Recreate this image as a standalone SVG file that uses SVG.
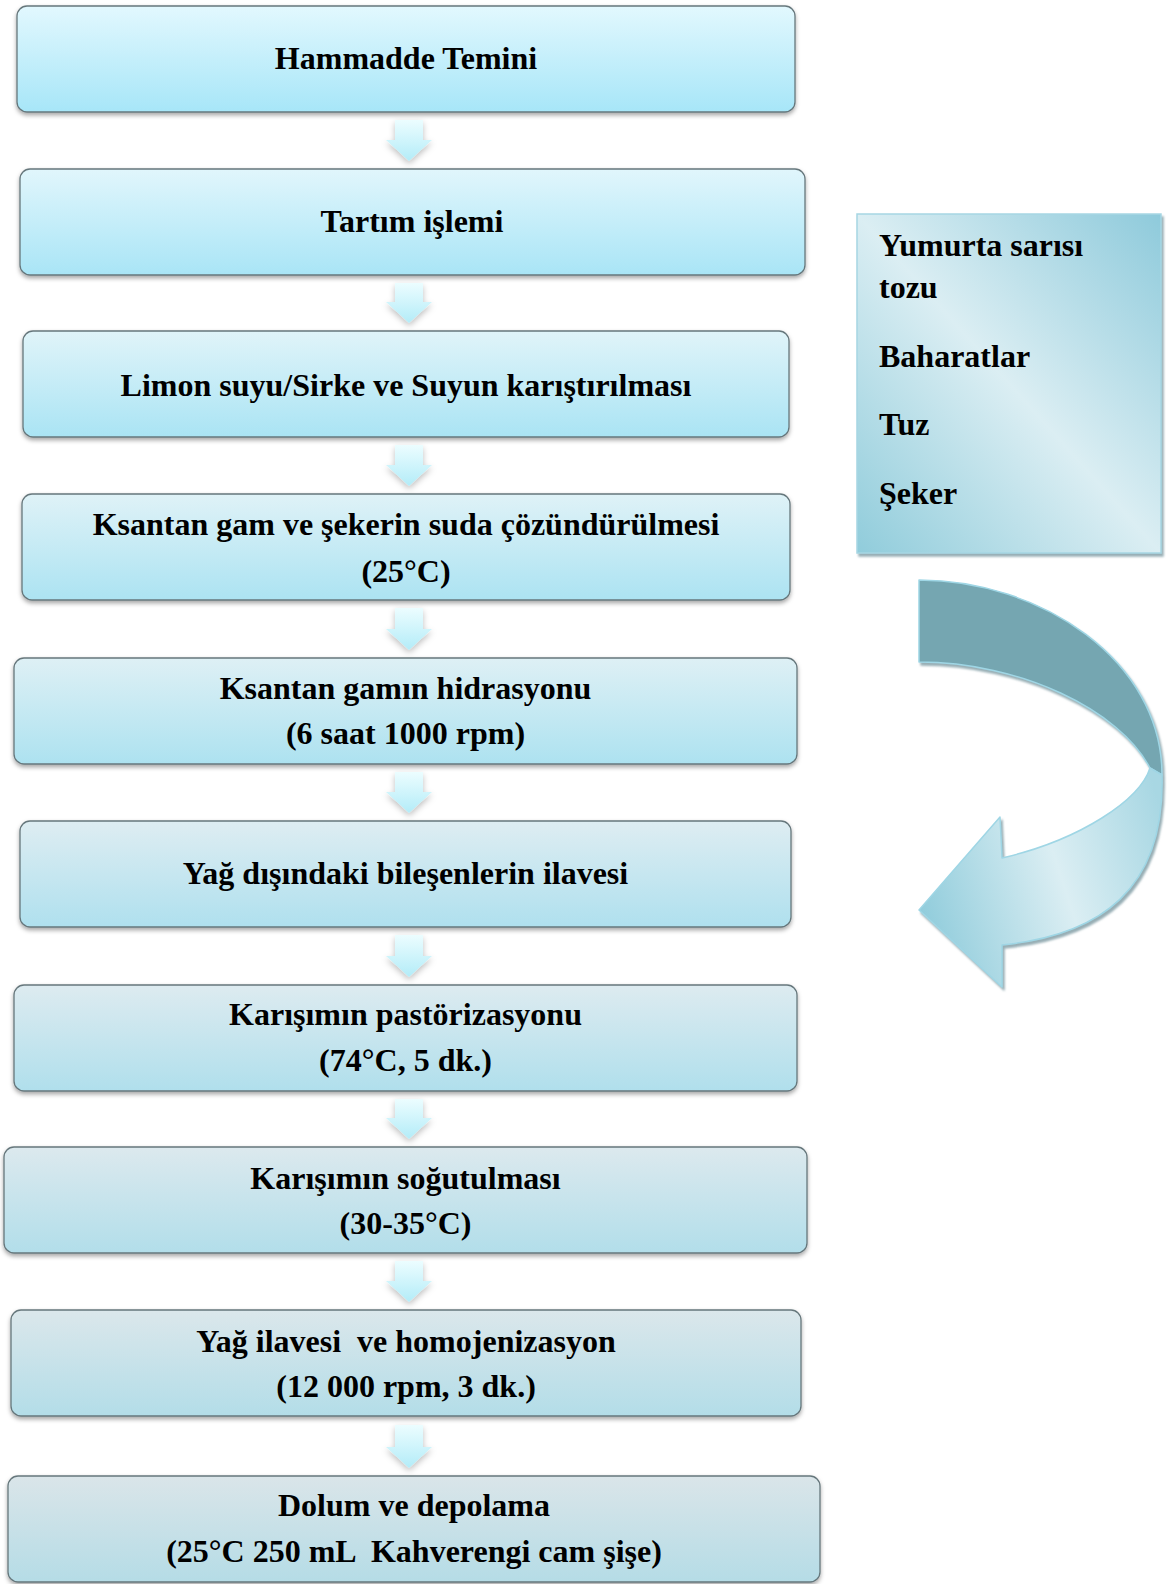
<svg xmlns="http://www.w3.org/2000/svg" width="1174" height="1584" viewBox="0 0 1174 1584">
<style>
.box{stroke:#66777c;stroke-width:1.3;filter:url(#sh)}
.t{font-family:"Liberation Serif","Times New Roman",serif;font-weight:bold;font-size:32px;fill:#000;text-anchor:middle}
.s{font-family:"Liberation Serif","Times New Roman",serif;font-weight:bold;font-size:32px;fill:#000}
.dn{fill:url(#ga);filter:url(#ash)}
</style>
<defs>
<filter id="sh" x="-5%" y="-20%" width="110%" height="150%"><feDropShadow dx="0" dy="2.5" stdDeviation="2" flood-color="#000" flood-opacity="0.35"/></filter>
<filter id="ash" x="-50%" y="-50%" width="200%" height="200%"><feDropShadow dx="0" dy="3" stdDeviation="3" flood-color="#000" flood-opacity="0.25"/></filter>
<filter id="csh" x="-10%" y="-10%" width="120%" height="120%"><feDropShadow dx="2" dy="3" stdDeviation="0.8" flood-color="#7d9aa2" flood-opacity="0.8"/></filter>
<linearGradient id="ga" x1="0" y1="0" x2="0" y2="1"><stop offset="0" stop-color="#ecfdff"/><stop offset="1" stop-color="#b3ecf8"/></linearGradient>
<linearGradient id="g0" x1="0" y1="0" x2="0" y2="1"><stop offset="0" stop-color="#e2f8fe"/><stop offset="1" stop-color="#a7e6f8"/></linearGradient>
<linearGradient id="g1" x1="0" y1="0" x2="0" y2="1"><stop offset="0" stop-color="#e1f6fc"/><stop offset="1" stop-color="#a9e5f6"/></linearGradient>
<linearGradient id="g2" x1="0" y1="0" x2="0" y2="1"><stop offset="0" stop-color="#e0f4f9"/><stop offset="1" stop-color="#aae4f4"/></linearGradient>
<linearGradient id="g3" x1="0" y1="0" x2="0" y2="1"><stop offset="0" stop-color="#dff2f7"/><stop offset="1" stop-color="#ace3f2"/></linearGradient>
<linearGradient id="g4" x1="0" y1="0" x2="0" y2="1"><stop offset="0" stop-color="#def0f5"/><stop offset="1" stop-color="#ade2f0"/></linearGradient>
<linearGradient id="g5" x1="0" y1="0" x2="0" y2="1"><stop offset="0" stop-color="#deedf2"/><stop offset="1" stop-color="#afe0ee"/></linearGradient>
<linearGradient id="g6" x1="0" y1="0" x2="0" y2="1"><stop offset="0" stop-color="#ddebf0"/><stop offset="1" stop-color="#b0dfec"/></linearGradient>
<linearGradient id="g7" x1="0" y1="0" x2="0" y2="1"><stop offset="0" stop-color="#dce9ee"/><stop offset="1" stop-color="#b2deea"/></linearGradient>
<linearGradient id="g8" x1="0" y1="0" x2="0" y2="1"><stop offset="0" stop-color="#dbe7eb"/><stop offset="1" stop-color="#b3dde8"/></linearGradient>
<linearGradient id="g9" x1="0" y1="0" x2="0" y2="1"><stop offset="0" stop-color="#dae5e9"/><stop offset="1" stop-color="#b5dce6"/></linearGradient>
<linearGradient id="gs" x1="0" y1="1" x2="1" y2="0"><stop offset="0" stop-color="#90ccdb"/><stop offset="0.5" stop-color="#dbeef3"/><stop offset="1" stop-color="#8ecadb"/></linearGradient>
<linearGradient id="gc" gradientUnits="userSpaceOnUse" x1="919" y1="900" x2="1165" y2="820"><stop offset="0" stop-color="#92cddc"/><stop offset="0.55" stop-color="#dbeef3"/><stop offset="1" stop-color="#a8d7e3"/></linearGradient>
</defs>

<g id="connectors">
<path class="dn" d="M395,120 H423 V140 H432 L409,161 L386,140 H395 Z"/>
<path class="dn" d="M395,283 H423 V302 H432 L409,323 L386,302 H395 Z"/>
<path class="dn" d="M395,445 H423 V465 H432 L409,486 L386,465 H395 Z"/>
<path class="dn" d="M395,608 H423 V629 H432 L409,650 L386,629 H395 Z"/>
<path class="dn" d="M395,772 H423 V792 H432 L409,813 L386,792 H395 Z"/>
<path class="dn" d="M395,935 H423 V956 H432 L409,977 L386,956 H395 Z"/>
<path class="dn" d="M395,1099 H423 V1118 H432 L409,1139 L386,1118 H395 Z"/>
<path class="dn" d="M395,1261 H423 V1281 H432 L409,1302 L386,1281 H395 Z"/>
<path class="dn" d="M395,1425 H423 V1447 H432 L409,1468 L386,1447 H395 Z"/>
</g>

<g id="n1"><rect class="box" x="17" y="6" width="778" height="106" rx="10" fill="url(#g0)"/><text class="t" x="406" y="69">Hammadde Temini</text></g>
<g id="n2"><rect class="box" x="20" y="169" width="785" height="106" rx="10" fill="url(#g1)"/><text class="t" x="412" y="232">Tartım işlemi</text></g>
<g id="n3"><rect class="box" x="23" y="331" width="766" height="106" rx="10" fill="url(#g2)"/><text class="t" x="406" y="396">Limon suyu/Sirke ve Suyun karıştırılması</text></g>
<g id="n4"><rect class="box" x="22" y="494" width="768" height="106" rx="10" fill="url(#g3)"/><text class="t" x="406" y="535">Ksantan gam ve şekerin suda çözündürülmesi</text><text class="t" x="406" y="582">(25°C)</text></g>
<g id="n5"><rect class="box" x="14" y="658" width="783" height="106" rx="10" fill="url(#g4)"/><text class="t" x="405.5" y="699">Ksantan gamın hidrasyonu</text><text class="t" x="405.5" y="744">(6 saat 1000 rpm)</text></g>
<g id="n6"><rect class="box" x="20" y="821" width="771" height="106" rx="10" fill="url(#g5)"/><text class="t" x="405.5" y="884">Yağ dışındaki bileşenlerin ilavesi</text></g>
<g id="n7"><rect class="box" x="14" y="985" width="783" height="106" rx="10" fill="url(#g6)"/><text class="t" x="405.5" y="1025">Karışımın pastörizasyonu</text><text class="t" x="405.5" y="1071">(74°C, 5 dk.)</text></g>
<g id="n8"><rect class="box" x="4" y="1147" width="803" height="106" rx="10" fill="url(#g7)"/><text class="t" x="405.5" y="1189">Karışımın soğutulması</text><text class="t" x="405.5" y="1234">(30-35°C)</text></g>
<g id="n9"><rect class="box" x="11" y="1310" width="790" height="106" rx="10" fill="url(#g8)"/><text class="t" x="406" y="1352" xml:space="preserve">Yağ ilavesi  ve homojenizasyon</text><text class="t" x="406" y="1397">(12 000 rpm, 3 dk.)</text></g>
<g id="n10"><rect class="box" x="8" y="1476" width="812" height="106" rx="10" fill="url(#g9)"/><text class="t" x="414" y="1516">Dolum ve depolama</text><text class="t" x="414" y="1562" xml:space="preserve">(25°C 250 mL  Kahverengi cam şişe)</text></g>

<g id="side">
<rect x="857" y="214" width="304" height="339" fill="url(#gs)" stroke="#a6d6e3" stroke-width="1.5" filter="url(#csh)"/>
<text class="s" x="879" y="256">Yumurta sarısı</text>
<text class="s" x="879" y="298">tozu</text>
<text class="s" x="879" y="367">Baharatlar</text>
<text class="s" x="879" y="435">Tuz</text>
<text class="s" x="879" y="504">Şeker</text>
</g>

<g id="curved-arrow" filter="url(#csh)">
<path d="M919,580 C1040,580 1162,660 1162,775 L1150,768 C1120,710 1020,662 919,662 Z" fill="#74a6b1" stroke="#9fd6e5" stroke-width="1.5" stroke-linejoin="round"/>
<path d="M1162,775 C1165,890 1100,935 1002,945 L1002,987 L919,910 L1000,817 L1002,858 C1080,840 1140,800 1150,768 Z" fill="url(#gc)" stroke="#9fd6e5" stroke-width="1.5" stroke-linejoin="round"/>
</g>
</svg>
